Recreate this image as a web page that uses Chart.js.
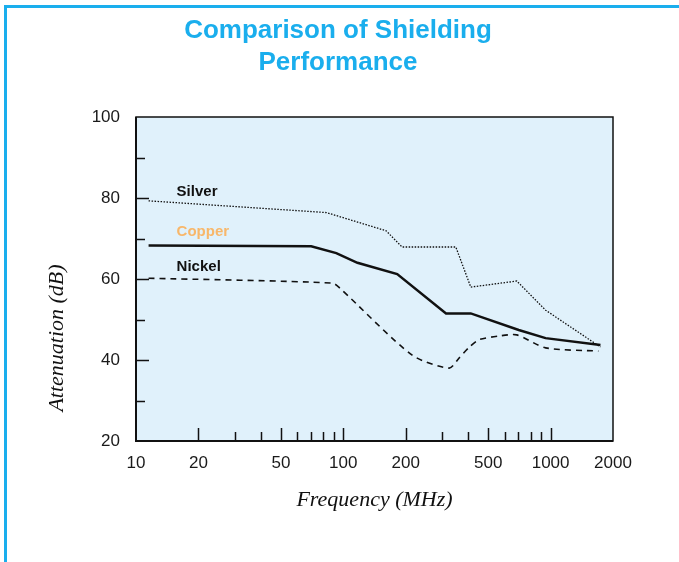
<!DOCTYPE html>
<html>
<head>
<meta charset="utf-8">
<title>Comparison of Shielding Performance</title>
<script src="https://cdn.jsdelivr.net/npm/chart.js@4.4.1/dist/chart.umd.min.js"></script>
<style>
  body { margin: 0; background: #fff; }
  #wrap { position: relative; width: 679px; height: 562px; }
  #frame { position: absolute; left: 4px; top: 5px; right: 0; bottom: 0;
           border-left: 3px solid #1aaeed; border-top: 3px solid #1aaeed; }
  #box { position: absolute; left: 0; top: 0; width: 679px; height: 562px; }
</style>
</head>
<body>
<div id="wrap">
  <div id="frame"></div>
  <div id="box"><canvas id="chart"></canvas></div>
</div>
<script>
"use strict";
// axis ticks
var xTickValues = [10, 20, 50, 100, 200, 500, 1000, 2000];
var xMajorTicks = [20, 50, 100, 200, 500, 1000];
var xMinorTicks = [30, 40, 60, 70, 80, 90, 300, 400, 600, 700, 800, 900];
var yTickValues = [20, 40, 60, 80, 100];
var yMajorTicks = [40, 60, 80];
var yMinorTicks = [30, 50, 70, 90];

// Silver
var silverFreq = [11.5, 83, 161, 192, 349, 412, 687, 946, 1740];
var silverDb = [79.3, 76.4, 71.9, 67.9, 67.9, 58, 59.5, 52.3, 43.2];

// Copper
var copperFreq = [11.5, 70, 92.5, 117, 182, 313, 412, 702, 946, 1740];
var copperDb = [68.3, 68.1, 66.4, 64, 61.2, 51.5, 51.5, 47.4, 45.4, 43.7];

// Nickel
var nickelFreq = [11.5, 88.5, 96, 215, 324, 362, 402, 451, 560, 687, 946, 1700];
var nickelDb = [60.2, 59, 57.8, 41.2, 38, 40.5, 43, 45, 45.9, 46.2, 43, 42.2];

// in-plot series names
var seriesNames = ["Silver", "Copper", "Nickel"];
var seriesNameColors = ["#111111", "#f8b76a", "#111111"];
var seriesNameFreq = [15.7, 15.7, 15.7];
var seriesNameDb = [81.5, 71.6, 63];

function toPoints(xs, ys) {
    var pts = [];
    for (var i = 0; i < xs.length; i++) {
        pts.push({x: xs[i], y: ys[i]});
    }
    return pts;
}

var extras = {
    id: 'extras',
    beforeDraw: function(chart) {
        var ctx = chart.ctx, a = chart.chartArea;
        ctx.save();
        ctx.fillStyle = '#e0f1fb';
        ctx.fillRect(a.left, a.top, a.right - a.left, a.bottom - a.top);
        ctx.restore();
    },
    afterDatasetsDraw: function(chart) {
        var ctx = chart.ctx, a = chart.chartArea;
        var x = chart.scales.x, y = chart.scales.y;
        ctx.save();
        ctx.strokeStyle = '#111';
        ctx.lineWidth = 1.5;
        ctx.beginPath();
        xMajorTicks.forEach(function(v) {
            var px = Math.round(x.getPixelForValue(v)) + 0.5;
            ctx.moveTo(px, a.bottom); ctx.lineTo(px, a.bottom - 13);
        });
        xMinorTicks.forEach(function(v) {
            var px = Math.round(x.getPixelForValue(v)) + 0.5;
            ctx.moveTo(px, a.bottom); ctx.lineTo(px, a.bottom - 9);
        });
        yMajorTicks.forEach(function(v) {
            var py = Math.round(y.getPixelForValue(v)) + 0.5;
            ctx.moveTo(a.left, py); ctx.lineTo(a.left + 13, py);
        });
        yMinorTicks.forEach(function(v) {
            var py = Math.round(y.getPixelForValue(v)) + 0.5;
            ctx.moveTo(a.left, py); ctx.lineTo(a.left + 9, py);
        });
        ctx.stroke();
        // plot frame
        ctx.lineWidth = 1.5;
        ctx.strokeRect(a.left, a.top, a.right - a.left, a.bottom - a.top);
        ctx.lineWidth = 2;
        ctx.beginPath();
        ctx.moveTo(a.left, a.top); ctx.lineTo(a.left, a.bottom); ctx.lineTo(a.right, a.bottom);
        ctx.stroke();

        // series names
        ctx.font = 'bold 15px "Liberation Sans", Arial, sans-serif';
        ctx.textBaseline = 'middle';
        ctx.textAlign = 'left';
        for (var i = 0; i < seriesNames.length; i++) {
            ctx.fillStyle = seriesNameColors[i];
            ctx.fillText(seriesNames[i], x.getPixelForValue(seriesNameFreq[i]), y.getPixelForValue(seriesNameDb[i]));
        }
        ctx.restore();
    },
    afterDraw: function(chart) {
        var ctx = chart.ctx, a = chart.chartArea;
        ctx.save();
        // main title
        ctx.fillStyle = '#1aaeed';
        ctx.font = 'bold 26px "Liberation Sans", Arial, sans-serif';
        ctx.textAlign = 'center';
        ctx.textBaseline = 'middle';
        ctx.fillText('Comparison of Shielding', 338, 31);
        ctx.fillText('Performance', 338, 63);
        // y title
        ctx.fillStyle = '#111';
        ctx.font = 'italic 22px "Liberation Serif", "Times New Roman", serif';
        ctx.translate(57, 338);
        ctx.rotate(-Math.PI / 2);
        ctx.fillText('Attenuation (dB)', 0, 0);
        ctx.restore();
    }
};

var ctx = document.getElementById('chart').getContext('2d');

var shieldChart = new Chart(ctx, {
    type: 'line',
    data: {
        datasets: [{
            label: 'Silver',
            data: toPoints(silverFreq, silverDb),
            borderColor: '#111',
            borderWidth: 1.3,
            borderDash: [1.5, 1.5],
            pointRadius: 0,
            tension: 0
        }, {
            label: 'Copper',
            data: toPoints(copperFreq, copperDb),
            borderColor: '#111',
            borderWidth: 2.5,
            pointRadius: 0,
            tension: 0
        }, {
            label: 'Nickel',
            data: toPoints(nickelFreq, nickelDb),
            borderColor: '#111',
            borderWidth: 1.6,
            borderDash: [6, 5],
            pointRadius: 0,
            tension: 0.25
        }]
    },
    options: {
        responsive: true,
        maintainAspectRatio: false,
        animation: false,
        layout: { padding: { top: 117, right: 66, left: 0, bottom: 0 } },
        plugins: {
            legend: { display: false },
            tooltip: { enabled: false }
        },
        scales: {
            x: {
                type: 'logarithmic',
                min: 10,
                max: 2000,
                afterBuildTicks: function(scale) {
                    scale.ticks = xTickValues.map(function(v) { return {value: v}; });
                },
                afterFit: function(scale) { scale.height = 121; },
                grid: { display: false },
                border: { display: false },
                ticks: {
                    color: '#1a1a1a',
                    padding: 4,
                    maxRotation: 0,
                    autoSkip: false,
                    font: { family: '"Liberation Sans", Arial, sans-serif', size: 17 },
                    callback: function(v) { return String(v); }
                },
                title: {
                    display: true,
                    text: 'Frequency (MHz)',
                    color: '#111',
                    font: { family: '"Liberation Serif", "Times New Roman", serif', size: 22, style: 'italic' },
                    padding: { top: 0, bottom: 49 }
                }
            },
            y: {
                type: 'linear',
                min: 20,
                max: 100,
                afterBuildTicks: function(scale) {
                    scale.ticks = yTickValues.map(function(v) { return {value: v}; });
                },
                afterFit: function(scale) { scale.width = 136; },
                grid: { display: false },
                border: { display: false },
                ticks: {
                    color: '#1a1a1a',
                    padding: 8,
                    font: { family: '"Liberation Sans", Arial, sans-serif', size: 17 }
                }
            }
        }
    },
    plugins: [extras]
});
</script>
</body>
</html>
